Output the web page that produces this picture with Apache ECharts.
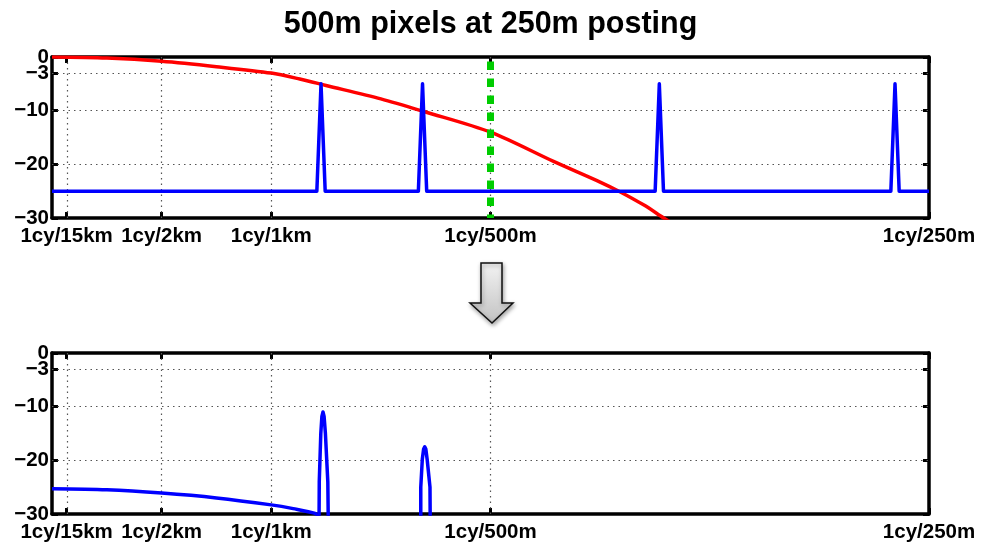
<!DOCTYPE html>
<html>
<head>
<meta charset="utf-8">
<script src="https://cdn.jsdelivr.net/npm/echarts@6/dist/echarts.min.js"></script>
<style>
html,body{margin:0;padding:0;background:#fff;}
#chart{width:981px;height:546px;}
</style>
</head>
<body>
<div id="chart"></div>
<script>
// ---- data ----
const titleText = '500m pixels at 250m posting';
const xTickValues = [1/15, 0.5, 1, 2, 4];
const xTickLabels = ['1cy/15km', '1cy/2km', '1cy/1km', '1cy/500m', '1cy/250m'];
const yTickValues = [0, -3, -10, -20, -30];
const yTickLabels = ['0', '\u22123', '\u221210', '\u221220', '\u221230'];

// top panel: pixel response (red), spectrum with aliases (blue), Nyquist (green)
const redResponse = [[0,0],[0.25,-0.2],[0.5,-0.8],[0.75,-1.8],[1.0,-3.0],[1.13,-4.1],[1.25,-5.3],[1.5,-7.8],[1.7,-10.2],[2.0,-14.0],[2.29,-19.5],[2.5,-23.3],[2.59,-25.1],[2.7,-27.6],[2.79,-30],[2.83,-31]];
const topSpectrum = [[0,-25],[1.208,-25],[1.227,-5],[1.246,-25],[1.671,-25],[1.690,-5],[1.709,-25],[2.751,-25],[2.770,-5],[2.789,-25],[3.826,-25],[3.845,-5],[3.864,-25],[4,-25]];
const nyquistLine = [[2,0],[2,-30]];

// bottom panel: filtered spectrum
const bottomBase = [[0,-25.3],[0.25,-25.5],[0.5,-26.1],[0.75,-27.0],[1.0,-28.3],[1.1,-29.0],[1.2,-29.9],[1.21,-30.5]];
const bottomPeak1 = [[1.218,-31],[1.219,-24],[1.226,-15],[1.231,-11.8],[1.236,-11.0],[1.241,-11.8],[1.247,-15],[1.258,-24],[1.260,-31]];
const bottomPeak2 = [[1.682,-31],[1.682,-25],[1.689,-19.8],[1.695,-17.9],[1.700,-17.5],[1.705,-17.9],[1.711,-19.8],[1.724,-25],[1.725,-31]];

// ---- chart ----
const FONT = '"Liberation Sans", Arial, Helvetica, sans-serif';
const chart = echarts.init(document.getElementById('chart'), null, {renderer: 'canvas'});

function xLabel(v) {
  const i = xTickValues.findIndex(t => Math.abs(t - v) < 1e-6);
  return i >= 0 ? xTickLabels[i] : '';
}
function yLabel(v) {
  const i = yTickValues.findIndex(t => Math.abs(t - v) < 1e-6);
  return i >= 0 ? yTickLabels[i] : '';
}

const axisLineStyle = {show: true, onZero: false, lineStyle: {color: '#000', width: 3.5}};
const tickStyle = (vals) => ({show: true, inside: true, length: 6, customValues: vals, lineStyle: {color: '#000', width: 3}});
const labelBase = {fontSize: 20.5, fontWeight: 'bold', color: '#000', fontFamily: FONT, hideOverlap: false};
// split y labels into two interleaved sets so neighbouring labels never collide
const yLabelsA = yTickValues.filter((v, i) => i % 2 === 0);
const yLabelsB = yTickValues.filter((v, i) => i % 2 === 1);

function xAxes(g) {
  return [
    {gridIndex: g, type: 'value', min: 0, max: 4, position: 'bottom',
     axisLine: axisLineStyle, axisTick: tickStyle(xTickValues),
     axisLabel: Object.assign({customValues: xTickValues, formatter: xLabel, margin: 8, showMinLabel: true, showMaxLabel: true}, labelBase),
     splitLine: {show: false}},
    {gridIndex: g, type: 'value', min: 0, max: 4, position: 'top',
     axisLine: axisLineStyle, axisTick: tickStyle(xTickValues),
     axisLabel: {show: false}, splitLine: {show: false}}
  ];
}
function yAxes(g) {
  return [
    {gridIndex: g, type: 'value', min: -30, max: 0, position: 'left',
     axisLine: axisLineStyle, axisTick: tickStyle(yTickValues),
     axisLabel: Object.assign({customValues: yLabelsA, formatter: yLabel, margin: 3, showMinLabel: true, showMaxLabel: true}, labelBase),
     splitLine: {show: false}},
    {gridIndex: g, type: 'value', min: -30, max: 0, position: 'right',
     axisLine: axisLineStyle, axisTick: tickStyle(yTickValues),
     axisLabel: {show: false}, splitLine: {show: false}},
    {gridIndex: g, type: 'value', min: -30, max: 0, position: 'left', offset: 0,
     axisLine: {show: false, onZero: false}, axisTick: {show: false},
     axisLabel: Object.assign({customValues: yLabelsB, formatter: yLabel, margin: 3, showMinLabel: true, showMaxLabel: true}, labelBase),
     splitLine: {show: false}}
  ];
}

const vGrid = xTickValues.filter(v => v > 0 && v < 4);
const hGrid = yTickValues.filter(v => v < 0 && v > -30);
function gridLines(xi, yi) {
  return {
    type: 'line', xAxisIndex: xi, yAxisIndex: yi, data: [], silent: true, z: 1,
    markLine: {
      silent: true, z: 1, symbol: ['none', 'none'], label: {show: false}, animation: false,
      lineStyle: {color: '#555', width: 1.2, type: [1.5, 4]},
      emphasis: {disabled: true},
      data: vGrid.map(v => ({xAxis: v})).concat(hGrid.map(v => ({yAxis: v})))
    }
  };
}
function lineSeries(xi, yi, data, color, width, extra) {
  return Object.assign({
    type: 'line', xAxisIndex: xi, yAxisIndex: yi, data: data, showSymbol: false, symbol: 'none',
    clip: true, silent: true, z: 3, animation: false,
    lineStyle: {color: color, width: width, join: 'round'}
  }, extra || {});
}

const option = {
  backgroundColor: '#fff',
  animation: false,
  title: {
    text: titleText, left: 'center', top: 4,
    textStyle: {fontSize: 30.5, fontWeight: 'bold', color: '#000', fontFamily: FONT}
  },
  grid: [
    {left: 52, top: 57, width: 877, height: 161, show: false},
    {left: 52, top: 353, width: 877, height: 161, show: false}
  ],
  xAxis: xAxes(0).concat(xAxes(1)),
  yAxis: yAxes(0).concat(yAxes(1)),
  series: [
    gridLines(0, 0),
    gridLines(2, 3),
    lineSeries(0, 0, redResponse, '#ff0000', 3.5, {smooth: 0.3}),
    lineSeries(0, 0, topSpectrum, '#0000ff', 3.5),
    lineSeries(0, 0, nyquistLine, '#00cc00', 6.5, {z: 4, lineStyle: {color: '#00cc00', width: 7, type: [8.5, 8.5], dashOffset: 12.5, cap: 'butt'}}),
    lineSeries(2, 3, bottomBase, '#0000ff', 3.5, {smooth: 0.3}),
    lineSeries(2, 3, bottomPeak1, '#0000ff', 3.5),
    lineSeries(2, 3, bottomPeak2, '#0000ff', 3.5)
  ],
  graphic: [{
    type: 'polygon', silent: true, z: 10,
    shape: {points: [[481,263],[502,263],[502,303],[513,303],[492,323],[470,303],[481,303]]},
    style: {
      fill: {type: 'linear', x: 0, y: 0, x2: 0, y2: 1, colorStops: [{offset: 0, color: '#f3f3f3'}, {offset: 1, color: '#c2c2c2'}]},
      stroke: '#111', lineWidth: 1.5,
      shadowBlur: 4, shadowColor: 'rgba(0,0,0,0.35)', shadowOffsetX: 1, shadowOffsetY: 2
    }
  }]
};
chart.setOption(option);
</script>
</body>
</html>
